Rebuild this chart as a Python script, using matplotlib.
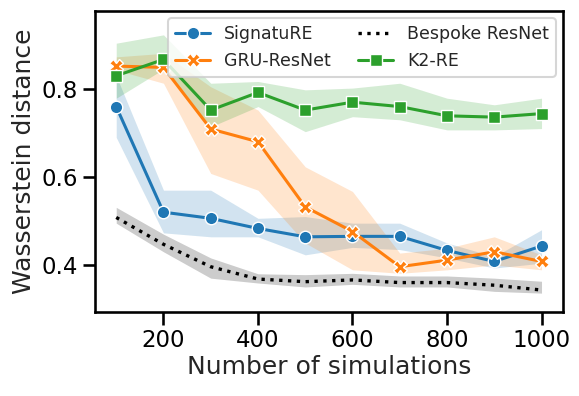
import matplotlib
matplotlib.use('Agg')
import matplotlib.pyplot as plt
import seaborn as sns

n_sims = [100, 200, 300, 400, 500, 600, 700, 800, 900, 1000]

signature_mean = [0.760, 0.520, 0.506, 0.483, 0.464, 0.465, 0.465, 0.433, 0.408, 0.443]
signature_lo = [0.690, 0.473, 0.464, 0.464, 0.423, 0.440, 0.435, 0.416, 0.393, 0.404]
signature_hi = [0.830, 0.570, 0.570, 0.506, 0.510, 0.495, 0.495, 0.450, 0.419, 0.480]

gru_mean = [0.852, 0.849, 0.709, 0.680, 0.532, 0.476, 0.396, 0.411, 0.430, 0.408]
gru_lo = [0.843, 0.813, 0.608, 0.570, 0.450, 0.389, 0.381, 0.389, 0.400, 0.389]
gru_hi = [0.873, 0.881, 0.805, 0.752, 0.623, 0.567, 0.427, 0.438, 0.464, 0.423]

bespoke_mean = [0.508, 0.447, 0.396, 0.368, 0.362, 0.366, 0.360, 0.360, 0.354, 0.343]
bespoke_lo = [0.495, 0.430, 0.370, 0.359, 0.350, 0.356, 0.350, 0.350, 0.340, 0.336]
bespoke_hi = [0.531, 0.470, 0.416, 0.380, 0.378, 0.381, 0.375, 0.375, 0.370, 0.363]

k2_mean = [0.830, 0.867, 0.752, 0.792, 0.752, 0.770, 0.760, 0.739, 0.736, 0.744]
k2_lo = [0.779, 0.845, 0.714, 0.760, 0.703, 0.737, 0.730, 0.707, 0.707, 0.710]
k2_hi = [0.904, 0.923, 0.813, 0.817, 0.798, 0.802, 0.813, 0.779, 0.764, 0.779]

sns.set_theme(context='talk', style='ticks')
plt.rcParams['font.family'] = ['DejaVu Sans']
plt.rcParams['axes.edgecolor'] = 'black'
plt.rcParams['xtick.color'] = 'black'
plt.rcParams['ytick.color'] = 'black'

fig, ax = plt.subplots(figsize=(5.79, 3.96), dpi=100)
fig.subplots_adjust(left=0.164, right=0.972, top=0.972, bottom=0.212)

blue, orange, green = '#1f77b4', '#ff7f0e', '#2ca02c'

ax.fill_between(n_sims, signature_lo, signature_hi, color=blue, alpha=0.2, linewidth=0)
ax.plot(n_sims, signature_mean, color=blue, marker='o', markeredgecolor='white',
        markersize=9, linewidth=2.2, label='SignatuRE')

ax.fill_between(n_sims, gru_lo, gru_hi, color=orange, alpha=0.2, linewidth=0)
ax.plot(n_sims, gru_mean, color=orange, marker='X', markeredgecolor='white',
        markersize=10, linewidth=2.2, label='GRU-ResNet')

ax.fill_between(n_sims, bespoke_lo, bespoke_hi, color='black', alpha=0.2, linewidth=0)
ax.plot(n_sims, bespoke_mean, color='black', linestyle=':', linewidth=2.4,
        label='Bespoke ResNet')

ax.fill_between(n_sims, k2_lo, k2_hi, color=green, alpha=0.2, linewidth=0)
ax.plot(n_sims, k2_mean, color=green, marker='s', markeredgecolor='white',
        markersize=8, linewidth=2.2, label='K2-RE')

ax.set_xlim(55, 1045)
ax.set_ylim(0.293, 0.977)
ax.set_xticks([200, 400, 600, 800, 1000])
ax.set_yticks([0.4, 0.6, 0.8])
ax.set_xlabel('Number of simulations', labelpad=2)
ax.set_ylabel('Wasserstein distance')

ax.legend(ncol=2, loc='upper right', fontsize=12.5, handlelength=2,
          columnspacing=1.6, borderaxespad=0.4, labelspacing=0.5)

plt.savefig('out.png', dpi=100)
plt.close()
